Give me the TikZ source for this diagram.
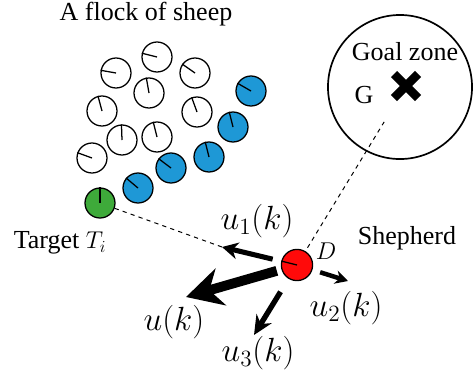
\documentclass[tikz,border=0pt]{standalone}
\usepackage{fontspec}
\setmainfont{Liberation Serif}
\usetikzlibrary{positioning, arrows.meta, shapes.misc}

\definecolor{flockblue}{RGB}{30,152,214}
\definecolor{targetgreen}{RGB}{62,170,58}
\definecolor{shepred}{RGB}{255,10,10}

\begin{document}
\begin{tikzpicture}[
    x=0.025cm, y=-0.025cm,
    font=\rmfamily\fontsize{18.5}{22}\selectfont,
    sheep/.style={
        draw,
        circle,
        line width=0.9pt,
        minimum size=0.75cm,
        inner sep=0pt
    },
    ctrl/.style={
        line width=#1,
        draw=black
    },
    guide/.style={
        dashed,
        line width=0.7pt
    },
    mathlabel/.style={
        font=\huge,
        scale=1.15
    }
]
\useasboundingbox (0,0) rectangle (475,378);

% the flock
\foreach \x/\y/\a/\c [count=\i] in {
    157/57/166/white, 116/73/170/white, 195/73/145/white,
    149/93/100/white, 102/111/105/white, 197/112/110/white,
    122/140/92/white, 157/137/104/white, 92/158/160/white,
    251/91/150/flockblue, 233/127/104/flockblue, 209/157/104/flockblue,
    171/168/143/flockblue, 138/188/140/flockblue}
{
    \node[sheep, fill=\c] (s\i) at (\x,\y) {};
    \draw[line width=0.9pt] (s\i.center) -- (s\i.\a);
}

\node[sheep, fill=targetgreen] (target) at (100,203) {};
\draw[line width=0.9pt] (target.center) -- (target.90);

\node (flock) at (146,14) {A flock of sheep};
\node (targetlabel) at (60,243) {Target $T_i$};

% goal zone
\node[draw, circle, line width=1.2pt, minimum size=3.6cm] (zone) at (400,87) {};
\node (goallabel) at (405,52) {Goal zone};
\node (glabel) at (364,95) {G};
\node[draw, cross out, line width=0.22cm, minimum size=0.38cm, inner sep=0pt] (goal) at (406,86) {};

% shepherd
\node[sheep, fill=shepred, minimum size=0.78cm] (D) at (297,265) {};
\draw[line width=0.9pt] (D.center) -- (D.166);
\node[font=\LARGE] (dlabel) at (326,251) {$D$};
\node (shepherd) at (407,238) {Shepherd};

\coordinate (u1tip) at (222,247);
\coordinate (utip) at (186,297);
\coordinate (u2tip) at (348,281);
\coordinate (u3tip) at (254,335);

\draw[guide] (target) -- (u1tip);
\draw[guide, shorten >=0.7cm, shorten <=0.1cm] (D) -- (goal);

\draw[ctrl=3.6pt, -{Stealth[length=0.4cm, width=0.42cm]}, shorten <=0.22cm] (D) -- (u1tip);
\draw[ctrl=7pt, -{Stealth[length=0.9cm, width=0.95cm]}, shorten <=0.12cm] (D) -- (utip);
\draw[ctrl=3.2pt, -{Stealth[length=0.32cm, width=0.34cm]}, shorten <=0.2cm] (D) -- (u2tip);
\draw[ctrl=3.8pt, -{Stealth[length=0.48cm, width=0.44cm]}, shorten <=0.38cm] (D) -- (u3tip);

\node[mathlabel] (u1label) at (257,221) {$u_1(k)$};
\node[mathlabel] (ulabel) at (174,322) {$u(k)$};
\node[mathlabel] (u2label) at (346,308) {$u_2(k)$};
\node[mathlabel] (u3label) at (258,353) {$u_3(k)$};

\end{tikzpicture}
\end{document}
